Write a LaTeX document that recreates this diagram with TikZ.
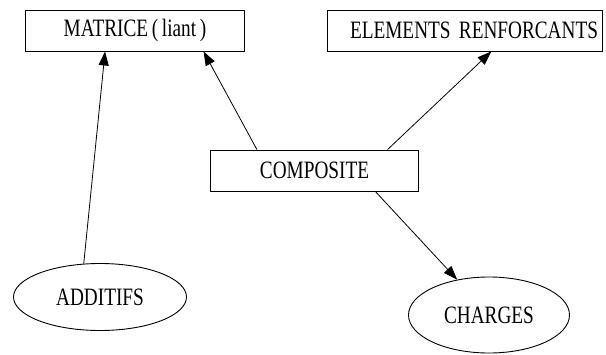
\documentclass[tikz,border=0pt]{standalone}
\usepackage{fontspec}
\setmainfont{Liberation Serif}[FakeStretch=0.77,WordSpace=0.77]
\usetikzlibrary{arrows.meta,shapes.geometric}
\begin{document}
\begin{tikzpicture}[x=1pt,y=-1pt,
  box/.style={draw,line width=0.9pt,rectangle,minimum height=41pt,inner sep=0pt,font=\fontsize{25}{27}\selectfont},
  oval/.style={draw,line width=0.9pt,ellipse,inner sep=0pt,font=\fontsize{25}{27}\selectfont},
  link/.style={line width=0.8pt,-{Triangle[length=14pt,width=10pt]}}]
\useasboundingbox (0,0) rectangle (606,354);
\node[box,minimum width=219pt] (mat) at (135,30.5) {MATRICE ( liant )};
\node[box,minimum width=275pt,text width=267pt,align=right] (ele) at (464.5,30.5) {ELEMENTS RENFORCANTS};
\node[box,minimum width=208pt] (comp) at (314.5,170.5) {COMPOSITE};
\node[oval,minimum width=173pt,minimum height=67pt] (add) at (100,297) {ADDITIFS};
\node[oval,minimum width=161pt,minimum height=76pt] (cha) at (489,315) {CHARGES};
\draw[link] (add.116.6) -- (mat.215.3);
\draw[link] (comp.160.4) -- (mat.-17.25);
\draw[link] (comp.16.2) -- (ele.-38.8);
\draw[link] (comp.-19) -- (cha.132);
\end{tikzpicture}
\end{document}
